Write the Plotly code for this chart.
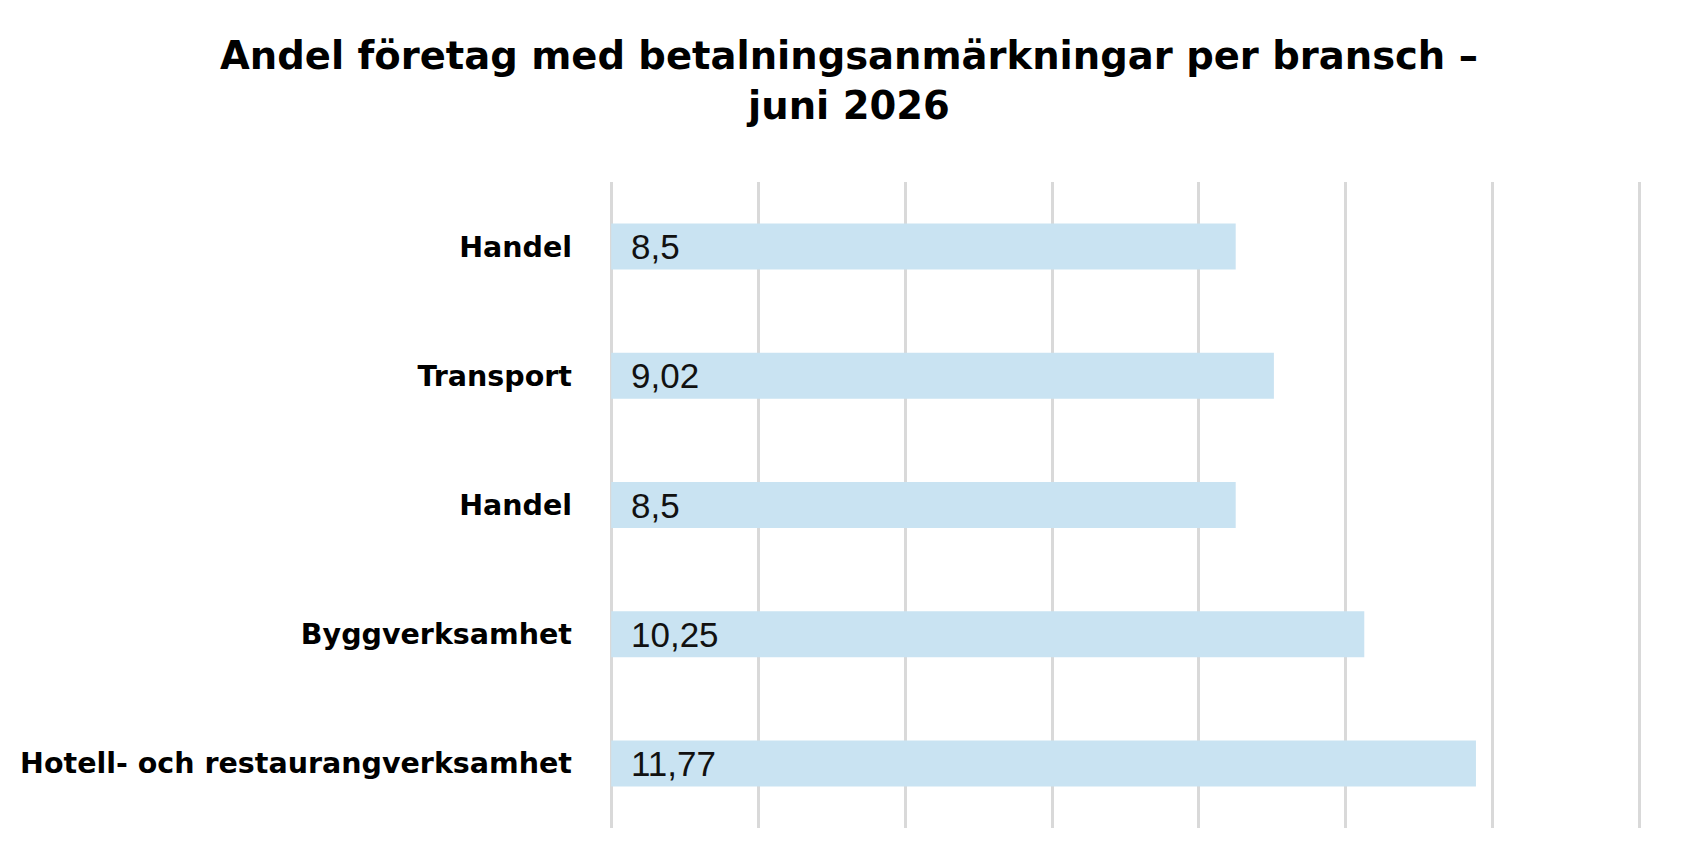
import plotly.graph_objects as go

# branscher uppifrån och ned, andel i procent
branscher = ['Handel', 'Transport', 'Handel', 'Byggverksamhet',
             'Hotell- och restaurangverksamhet']
andel = [8.5, 9.02, 8.5, 10.25, 11.77]
etiketter = ['8,5', '9,02', '8,5', '10,25', '11,77']
positioner = list(range(len(branscher)))

fig = go.Figure(go.Bar(
    x=andel,
    y=positioner,
    orientation='h',
    width=0.356,
    marker=dict(color='#c9e3f2', line=dict(width=0)),
    hoverinfo='skip'))

# värdena skrivs vid staplarnas början
for pos, txt in zip(positioner, etiketter):
    fig.add_annotation(x=0, y=pos, text=txt, showarrow=False,
                       xanchor='left', yanchor='middle', xshift=18,
                       font=dict(family='Liberation Sans', size=35, color='#111111'))

fig.update_layout(
    width=1682, height=868,
    paper_bgcolor='white', plot_bgcolor='white',
    margin=dict(l=596, r=48, t=174, b=48),
    title=dict(text='Andel företag med betalningsanmärkningar per bransch –<br>juni 2026',
               x=0.5, xanchor='center', y=0.93, yanchor='middle',
               font=dict(family='DejaVu Sans', size=38.5, color='black', weight='bold')),
    showlegend=False,
)

fig.update_xaxes(range=[-0.03, 14.03], dtick=2, tick0=0, showgrid=True,
                 gridcolor='#d9d9d9', gridwidth=3, zeroline=False,
                 showticklabels=False, ticks='', showline=False,
                 fixedrange=True)
fig.update_yaxes(range=[4.5, -0.5], tickvals=positioner, ticktext=branscher,
                 showgrid=False, zeroline=False, showline=False, ticks='',
                 ticklabelstandoff=36,
                 tickfont=dict(family='DejaVu Sans', size=28.5, color='black', weight='bold'),
                 fixedrange=True)

fig.write_html("out.html")
